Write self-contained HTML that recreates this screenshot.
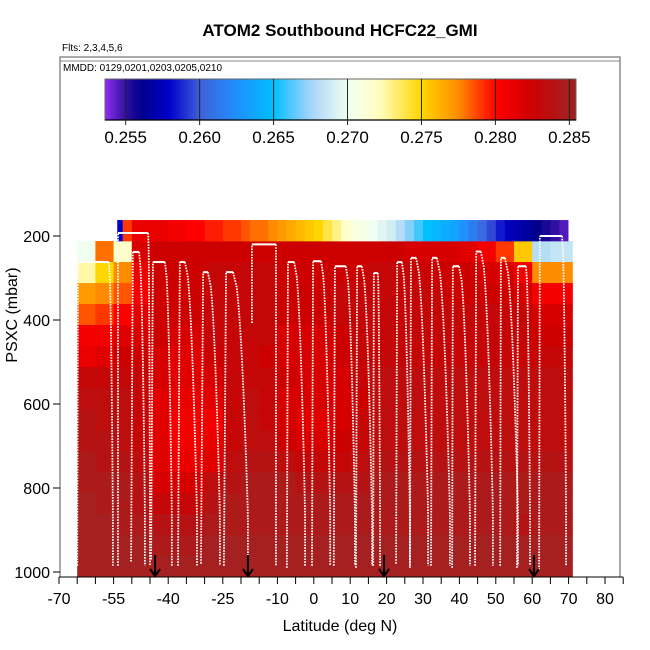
<!DOCTYPE html>
<html><head><meta charset="utf-8"><style>
body{margin:0;background:#fff}
svg{display:block;font-family:"Liberation Sans",sans-serif}
</style></head><body>
<svg id="chart" width="650" height="650" viewBox="0 0 650 650">
<defs>
<linearGradient id="cbgrad" x1="0" x2="1" y1="0" y2="0"></linearGradient>
<clipPath id="plotclip"><rect x="60" y="57" width="560" height="520"/></clipPath>
</defs>
<text x="340" y="36" text-anchor="middle" font-size="17" font-weight="bold">ATOM2 Southbound HCFC22_GMI</text>
<text x="62" y="51" font-size="10">Flts: 2,3,4,5,6</text>
<g id="heat" clip-path="url(#plotclip)"></g>
<g id="tracks" clip-path="url(#plotclip)"></g>
<g id="arrows"></g>
<rect x="60" y="57" width="560" height="520" fill="none" stroke="#555" stroke-width="1"/>
<g>
<line x1="60" y1="61" x2="620" y2="61" stroke="#888" stroke-width="1"/>
<text x="63" y="71" font-size="10">MMDD: 0129,0201,0203,0205,0210</text>
</g>
<g id="cbar"></g>
<g id="xaxis"></g>
<g id="yaxis"></g>
<text x="340" y="631" text-anchor="middle" font-size="16">Latitude (deg N)</text>
<text transform="translate(17,315) rotate(-90)" text-anchor="middle" font-size="16">PSXC (mbar)</text>
</svg>
<script>
// ---- data ----
const latEdges = [-65,-60,-55,-50,-45,-40,-35,-30,-25,-20,-15,-10,-5,0,5,10,15,20,25,30,35,40,45,50,55,60,65,71];
const pEdges = [162,212,262,312,362,412,462,512,562,612,662,712,762,812,862,912,962,1012];
const topLatEdges = [-54,-52.5,-50,-47.5,-45,-42.5,-40,-37.5,-35,-32.5,-30,-27.5,-25,-22.5,-20,-17.5,-15,-12.5,-10,-7.5,-5,-2.5,0,2.5,5,7.5,10,12.5,15,17.5,20,22.5,25,27.5,30,32.5,35,37.5,40,42.5,45,47.5,50,52.5,55,57.5,60,62.5,65,67.5,69.8];
const topRow = [258,279,281,281,281,281,280.5,280.5,280,280,279.5,279.5,279,279,278.5,278,278,277.5,277,276.5,276,275.5,275,274,273,272,271,270.5,270,269.5,269,268,267,266,265,264.5,264,263.5,262.5,261.5,260.5,259.5,258.5,257.5,257,256.5,256,255.5,255,254.5];
const N = null;
const row0 = [N,N,N,N,N,N,N,N,N,N,N,N,N,N,N,N,N,N,N,N,N,N,N,N,N,N,N];
const row1 = [270,278,272,282,282.5,282.5,282.5,282.5,282.5,282.5,282.5,282.5,282.5,282.5,282.5,282.5,282.5,282.5,282,282,282,281.5,280.5,279,275.5,268,268.5];
const row2 = [272.5,275,277.5,281,282.5,282.5,282.5,283,283,283,283,282.5,282.5,282.5,282.5,282.5,283,283,283,282.5,282.5,282.5,282,282,280.5,277.5,277.5];
const row3 = [277,277.5,278.5,280.5,282.5,282.5,282.5,283,283,283,283,282.5,282.5,282.5,283,283,283,283,283,283,282.5,282.5,282.5,282.5,282,280.5,280.5];
const row4 = [278.5,279,280,281.5,282.5,282.5,282.5,283,283,283,283,282.5,282.5,282.5,283,283,283,283,283,283,283,283,283,283,283,282,282];
const row5 = [280.5,280.5,281.5,282,282.5,282,282,283,283,283,283,282,282,282,282.5,283,283,283,283,283,283,283,283,283,283,282.5,282.5];
const row6 = [281,281.5,282.5,282.5,282,281.5,281.5,282.5,283,283,282.5,282,282,282,282.5,283,283,283,283,283,283,283,283,283,283,283,283];
const row7 = [283,283,283,283,282,281.5,281.5,282,283,283,283,282.5,282,282,282,283,283.5,283.5,283.5,283.5,283.5,283.5,283.5,283.5,283.5,283.5,283.5];
const row8 = [283.5,283.5,283.5,283,281.5,281,281,281.5,283,283.5,283,282,282,282,282,282.5,283.5,283.5,283.5,283.5,283.5,283.5,283.5,283.5,283.5,283.5,283.5];
const row9 = [284,283.5,283.5,283,281.5,280.5,280.5,280.5,283,283.5,283,282,281.5,281.5,282,283,283.5,283.5,283.5,283.5,283.5,283.5,283.5,283.5,283.5,283.5,283.5];
const row10 = [284,284,283.5,283,281.5,280.5,280.5,281,283,283.5,283.5,282.5,282,282,282.5,283,283.5,283.5,283.5,283.5,283.5,283.5,283.5,283.5,283.5,283.5,283.5];
const row11 = [284.5,284,284,283.5,281.5,281,281,281.5,283.5,284,284,283.5,283,283,283,283.5,284,284,284,284,284,284,284,284,284,284,284];
const row12 = [284.5,284.5,284.5,284,282,282,282,283.5,284,284.5,284.5,284.5,284,284,284,284,284.5,284.5,284.5,284.5,284.5,284.5,284.5,284.5,284.5,284.5,284.5];
const row13 = [285,284.5,284.5,284,283,283,283,284,284.5,284.5,284.5,284.5,284.5,284.5,284.5,284.5,284.5,284.5,284.5,284.5,284.5,284.5,284.5,284.5,284.5,284.5,284.5];
const row14 = [285,285,284.5,284.5,284,284,284,284.5,284.5,284.5,284.5,284.5,284.5,284.5,284.5,284.5,284.5,284.5,284.5,284.5,284.5,284.5,284.5,284.5,284,284.5,284.5];
const row15 = [285,285,285,285,284.5,284.5,284.5,285,285,285,285,285,285,285,285,285,285,285,285,285,285,285,285,285,285,285,285];
const row16 = [285,285,285,285,285,285,285,285,285,285,285,285,285,285,285,285,285,285,285,285,285,285,285,285,285,285,285];
const rows = [row0,row1,row2,row3,row4,row5,row6,row7,row8,row9,row10,row11,row12,row13,row14,row15,row16];
// profiles: bottom-left lat, top-left lat, top-right lat, bottom-right lat, top pressure
const profLatL = [-65.0,-53.8,-50.2,-44.7,-37.3,-31.0,-24.7,-17.0,-7.4,-0.5,5.5,11.6,16.3,22.6,26.4,32.2,38.0,44.3,51.2,55.8,61.9];
const profLatTL = [-64.8,-53.8,-49.7,-44.2,-36.8,-30.4,-24.1,-17.0,-7.1,-0.2,5.8,11.9,16.5,22.9,26.7,32.5,38.2,44.6,51.4,56.1,62.1];
const profLatTR = [-56.3,-45.5,-48.0,-40.9,-35.4,-29.1,-22.2,-10.4,-5.4,2.0,8.8,13.2,17.6,24.2,28.1,33.8,39.9,45.9,52.5,58.3,68.2];
const profLatR = [-55.2,-45.0,-46.4,-39.0,-32.1,-25.8,-18.1,-10.4,-2.4,4.5,11.3,16.0,18.2,26.4,31.4,37.4,42.9,49.2,56.1,59.4,69.3];
const profPTop = [262,193,238,262,262,286,286,220,262,260,272,272,288,262,252,252,272,237,252,272,200];
const profPBotL = [985,985,975,970,985,980,985,407,990,985,985,990,985,980,990,985,990,985,985,990,995];
const arrowLats = [-43.6,-18.1,19.3,60.5];
const xTickVals = [-70,-65,-60,-55,-50,-45,-40,-35,-30,-25,-20,-15,-10,-5,0,5,10,15,20,25,30,35,40,45,50,55,60,65,70,75,80,85];
const xLabelVals = [-70,-55,-40,-25,-10,0,10,20,30,40,50,60,70,80];
const yTickVals = [200,400,600,800,1000];
const cbTicks = [0.255,0.260,0.265,0.270,0.275,0.280,0.285];
// ---- scales ----
const X = lat => 59 + (lat + 70) * 3.64;
const Y = p => 236 + (p - 200) * 0.42;
const CBX = v => 105 + (v - 0.2536) / (0.28545 - 0.2536) * 471;
const stops = [[0.2536,[143,47,240]],[0.2550,[48,16,160]],[0.2560,[0,0,139]],[0.2580,[0,0,205]],[0.2600,[64,96,216]],[0.2625,[30,144,255]],[0.2650,[0,191,255]],[0.2675,[166,212,250]],[0.2700,[240,255,240]],[0.2720,[255,255,200]],[0.2750,[255,215,0]],[0.2775,[255,140,0]],[0.2800,[255,0,0]],[0.2825,[205,0,0]],[0.2850,[165,32,32]],[0.2856,[155,28,28]]];
function cmap(v){
  if (v <= stops[0][0]) return 'rgb('+stops[0][1].join(',')+')';
  for (let i=1;i<stops.length;i++){
    if (v <= stops[i][0]){
      const a=stops[i-1],b=stops[i],t=(v-a[0])/(b[0]-a[0]);
      return 'rgb('+a[1].map((c,k)=>Math.round(c+(b[1][k]-c)*t)).join(',')+')';
    }
  }
  return 'rgb('+stops[stops.length-1][1].join(',')+')';
}
const NS='http://www.w3.org/2000/svg';
function mk(tag, attrs, parent){const e=document.createElementNS(NS,tag);for(const k in attrs)e.setAttribute(k,attrs[k]);parent.appendChild(e);return e;}
// heatmap
const heat=document.getElementById('heat');
rows.forEach((row,ri)=>{
  row.forEach((v,ci)=>{
    if (v===null) return;
    const x0=X(latEdges[ci]), x1=X(latEdges[ci+1]), y0=Y(pEdges[ri]), y1=Y(pEdges[ri+1]);
    const r=mk('rect',{x:x0,y:y0,width:x1-x0+0.6,height:y1-y0+0.6,fill:cmap(v/1000)},heat);
    
    
  });
});
topRow.forEach((v,ci)=>{
  const x0=X(topLatEdges[ci]), x1=X(topLatEdges[ci+1]), y0=Y(pEdges[0]), y1=Y(pEdges[1]);
  const r=mk('rect',{x:x0,y:y0,width:x1-x0+0.6,height:y1-y0+0.3,fill:cmap(v/1000)},heat);
  
  
});
// tracks
const tracks=document.getElementById('tracks');
profPTop.forEach((pt,i)=>{
  const bot=985;
  let d='M'+X(profLatL[i])+','+Y(profPBotL[i])+' L'+X(profLatTL[i])+','+Y(pt);
  const up=mk('path',{d:d,fill:'none',stroke:'#fff','stroke-width':1.8,'stroke-dasharray':'1.6 1.2'},tracks);
  
  
  const top=mk('path',{d:'M'+X(profLatTL[i])+','+Y(pt)+' L'+X(profLatTR[i])+','+Y(pt),fill:'none',stroke:'#fff','stroke-width':2},tracks);
  
  
  let dd='M'+X(profLatTR[i])+','+Y(pt);
  for(let k=1;k<=20;k++){
    const t=k/20, p=pt+(bot-pt)*t;
    const lat=profLatTR[i]+(profLatR[i]-profLatTR[i])*Math.min(1,Math.sqrt(t)*1.1);
    dd+=' L'+X(lat)+','+Y(p);
  }
  const dn=mk('path',{d:dd,fill:'none',stroke:'#fff','stroke-width':1.8,'stroke-dasharray':'1.6 1.2'},tracks);
  
  
});
// arrows
const arrows=document.getElementById('arrows');
arrowLats.forEach(l=>{
  const x=X(l);
  const a=mk('path',{d:'M'+x+',555 L'+x+',576 M'+(x-5)+',569 L'+x+',576 L'+(x+5)+',569',fill:'none',stroke:'#000','stroke-width':2},arrows);
  
  
});
// colorbar
const grad=document.getElementById('cbgrad');
for(let i=0;i<=60;i++){
  const v=0.2536+(0.28545-0.2536)*i/60;
  mk('stop',{offset:(i/60*100)+'%','stop-color':cmap(v)},grad);
}
const cbar=document.getElementById('cbar');
const cbr=mk('rect',{x:105,y:79,width:471,height:41,fill:'url(#cbgrad)',stroke:'#666','stroke-width':1},cbar);


mk('line',{x1:105,y1:120,x2:576,y2:120,stroke:'#000','stroke-width':1.2},cbar);
cbTicks.forEach(v=>{
  const x=CBX(v);
  mk('line',{x1:x,y1:79,x2:x,y2:125,stroke:'#222','stroke-width':1},cbar);
  const t=mk('text',{x:x,y:143,'text-anchor':'middle','font-size':17},cbar);
  t.textContent=v.toFixed(3);
  
  
});
// x axis
const xa=document.getElementById('xaxis');
mk('line',{x1:X(-70),y1:577,x2:X(85),y2:577,stroke:'#000','stroke-width':1},xa);
xTickVals.forEach(v=>{mk('line',{x1:X(v),y1:577,x2:X(v),y2:584,stroke:'#000','stroke-width':1},xa);});
xLabelVals.forEach(v=>{
  const t=mk('text',{x:X(v),y:604,'text-anchor':'middle','font-size':16},xa);
  t.textContent=String(v);
  
  
});
// y axis
const ya=document.getElementById('yaxis');
yTickVals.forEach(v=>{
  mk('line',{x1:53,y1:Y(v),x2:60,y2:Y(v),stroke:'#000','stroke-width':1},ya);
  const t=mk('text',{x:50,y:Y(v)+6,'text-anchor':'end','font-size':16},ya);
  t.textContent=String(v);
  
  
});
</script>
</body></html>
